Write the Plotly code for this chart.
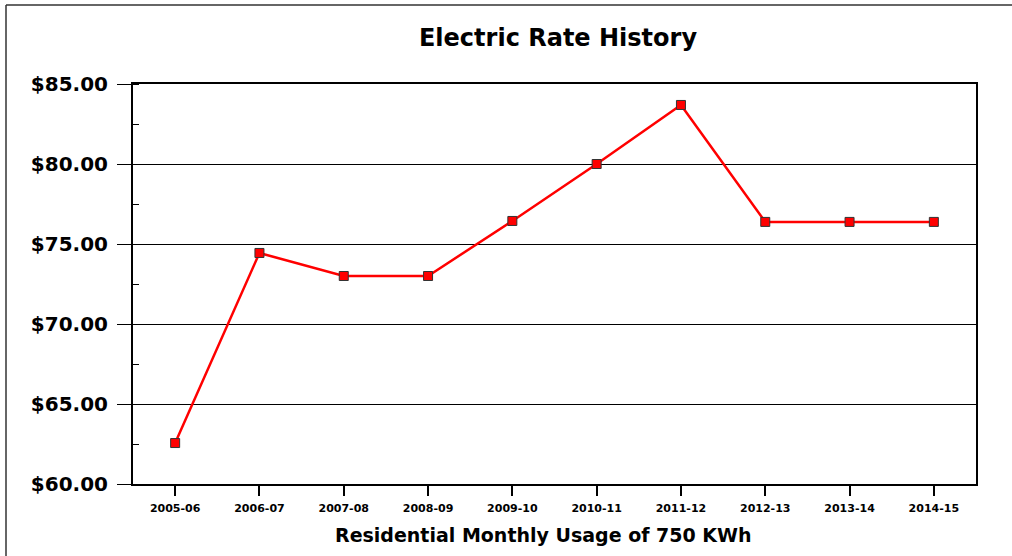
import plotly.graph_objects as go

years = ["2005-06", "2006-07", "2007-08", "2008-09", "2009-10",
         "2010-11", "2011-12", "2012-13", "2013-14", "2014-15"]
rates = [62.56, 74.44, 73.00, 73.00, 76.44, 80.00, 83.69, 76.38, 76.38, 76.38]
y_ticks = [60, 65, 70, 75, 80, 85]
y_labels = ["$60.00", "$65.00", "$70.00", "$75.00", "$80.00", "$85.00"]

W, H = 1012, 556
L, R, T, B = 133, 36, 84, 72
pw = W - L - R
ph = H - T - B

fig = go.Figure(go.Scatter(
    x=list(range(len(years))), y=rates, mode="lines+markers",
    line=dict(color="#ff0000", width=2.5),
    marker=dict(symbol="square", size=9, color="#ff0000",
                line=dict(color="#333333", width=1)),
    showlegend=False))

font = "DejaVu Sans, Arial, sans-serif"
fig.update_layout(
    width=W, height=H,
    margin=dict(l=L, r=R, t=T, b=B),
    paper_bgcolor="white", plot_bgcolor="white",
    title=dict(text="Electric Rate History", x=558 / W, xanchor="center",
               y=1 - 38 / H, yanchor="middle",
               font=dict(family=font, size=24, color="black", weight="bold")),
    xaxis=dict(
        range=[-0.5, len(years) - 0.5],
        tickmode="array", tickvals=list(range(len(years))), ticktext=years,
        ticks="outside", ticklen=10, tickwidth=1.5, tickcolor="black",
        ticklabelstandoff=3,
        showgrid=False, zeroline=False,
        showline=True, linecolor="black", linewidth=2, mirror=True,
        tickfont=dict(family=font, size=11, color="black", weight="bold"),
    ),
    yaxis=dict(
        range=[60, 85], tickmode="array", tickvals=y_ticks, ticktext=y_labels,
        ticks="outside", ticklen=14, tickwidth=1, tickcolor="black",
        ticklabelstandoff=5,
        showgrid=True, gridcolor="black", gridwidth=1, zeroline=False,
        showline=True, linecolor="black", linewidth=2, mirror=True,
        tickfont=dict(family=font, size=20, color="black", weight="bold"),
        minor=dict(dtick=2.5, tick0=62.5, ticks="inside", ticklen=6,
                   tickcolor="black", tickwidth=1, showgrid=False),
    ),
)

fig.add_annotation(text="Residential Monthly Usage of 750 KWh",
                   xref="paper", yref="paper",
                   x=(543 - L) / pw, y=-(535 - (H - B)) / ph,
                   xanchor="center", yanchor="middle", showarrow=False,
                   font=dict(family=font, size=19, color="black", weight="bold"))

fig.add_shape(type="line", xref="paper", yref="paper",
              x0=(6 - L) / pw, x1=(W - L) / pw, y0=1 + (T - 5) / ph, y1=1 + (T - 5) / ph,
              line=dict(color="#333333", width=1.5))
fig.add_shape(type="line", xref="paper", yref="paper",
              x0=(6 - L) / pw, x1=(6 - L) / pw, y0=1 + (T - 5) / ph, y1=-(B) / ph,
              line=dict(color="#333333", width=1.5))

fig.write_html("out.html", config={"displayModeBar": False},
               post_script="document.body.style.margin='0';")
